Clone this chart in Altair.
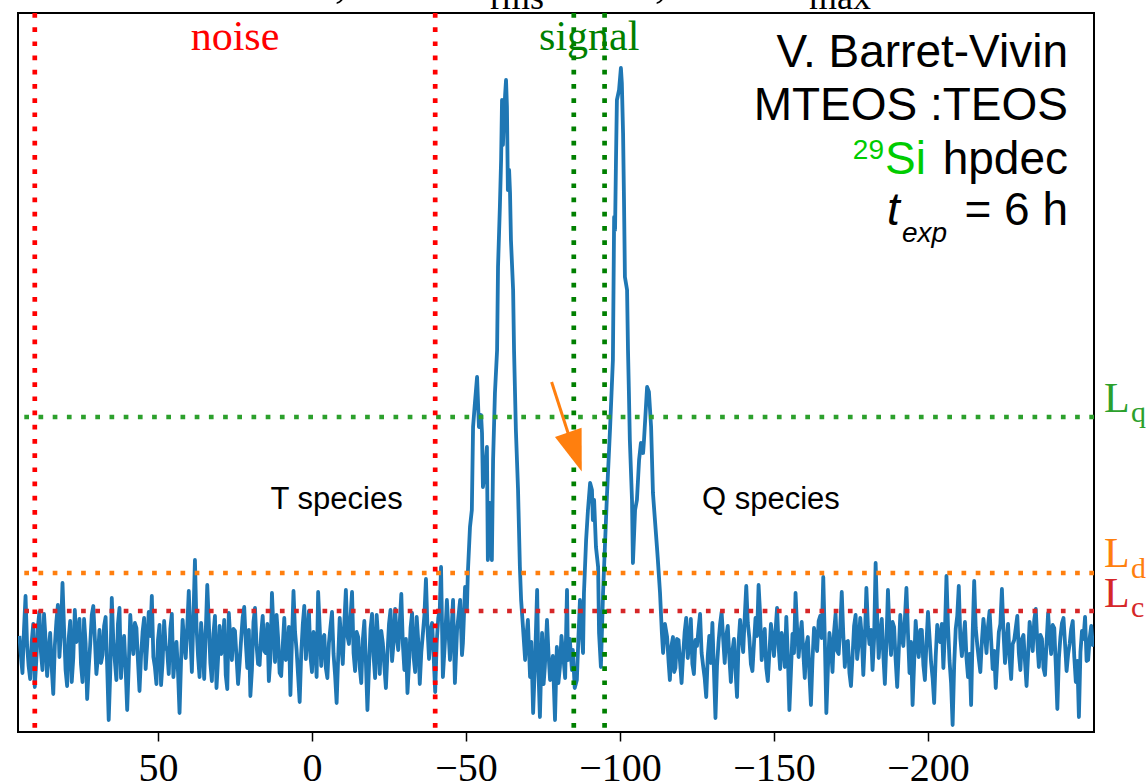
import altair as alt
import pandas as pd

# ---------------- data ----------------
# noise before the peaks: 0.5 ppm sampling starting at 95 ppm, going down
left_start_ppm = 95
left_noise = [
    1.2, -0.8, -2.5, 1.9, 5.2, 0.3, -1.8, -3.1, 0.6, 2.4,
    -3.9, -1.2, 2.1, 3.6, -0.4, -2.2, 3.4, 0.9, -2.8, -0.5,
    1.5, -2.0, -4.6, 0.2, 2.6, 4.3, -0.9, 1.7, 6.5, 2.0,
    -2.2, -3.8, 0.9, 2.7, -3.4, -1.0, 3.8, 0.6, 1.1, 2.9,
    -1.6, -3.4, 2.9, 0.5, -5.1, -2.0, 0.4, 3.3, 4.2, 1.0,
    -2.6, -0.9, 1.8, -1.5, -0.7, 2.2, 3.1, -1.8, -7.2, -2.5,
    5.0, 0.7, -1.3, -3.2, 2.4, 4.0, -3.0, -0.4, 1.2, -2.1,
    -6.2, -1.8, 3.3, 1.0, -0.6, 2.5, 2.0, -1.3, -4.3, -0.8,
    1.6, 3.0, -2.1, 0.4, 3.6, 1.2, 5.2, -0.9, -1.9, -3.6,
    0.8, 2.3, -3.7, -1.4, 2.7, 0.2, -0.3, -2.6, 1.9, 3.4,
    -2.9, -0.7, 0.6, -2.4, -6.5, -1.2, 2.8, 0.5, -1.0, 2.1,
    5.7, 1.3, -2.4, 3.0, 8.8, 2.2, -0.8, -2.9, 2.5, 0.4,
    -3.1, 1.5, 6.3, 2.6, -1.5, -3.3, 1.4, 3.2, -4.0, -1.1,
    2.2, -0.6, 0.1, 2.8, -2.7, -4.1, 3.5, 0.8, -1.2, 1.9,
    1.7, -0.9, -3.6, -1.5, 0.9, 3.1, 4.1, 0.6, -2.0, 1.8,
    -4.8, -2.2, 2.6, 4.0, 0.3, -1.6, -1.7, 1.4, 3.2, -0.3,
    -0.5, 2.4, -3.3, -1.0, 5.5, 1.9, -1.4, 3.3, 1.0, -2.5,
    -2.8, 0.2, 3.0, -1.2, -0.9, 2.1, -4.7, 0.8, 5.7, 1.6,
    -0.2, -2.8, -5.4, -0.6, 2.3, 4.2, -1.1, 1.0, 3.7, -0.8,
    -2.4, 1.6, 0.7, -2.9, 5.6, 2.1, -1.8, 0.9, 1.3, -2.0,
    -3.0, 0.5, 2.1, 3.6, -0.6, -2.7, -5.5, -1.0, 3.0, 0.7,
    -1.6, 2.5, 5.8, 1.2, 0.4, 3.0, 5.6, -0.5, -2.3, 1.6,
    1.1, -1.9, -3.5, 0.8, 2.7, -1.4, -6.2, -2.0, 1.9, 3.4,
    -0.8, -3.0, 3.3, 0.9, -2.6, 1.7, 0.5, -1.8, -4.0, -0.6,
    2.4, 3.8, -1.3, 0.6, 3.9, 1.3, -0.2, 2.6, 5.4, 0.4,
    -2.2, 0.9, -4.5, -1.6, 2.0, 3.5, -0.9, -2.4, 3.1, 0.7,
    -3.6, -0.4, 1.4, 3.3, 6.9, 2.0, -1.1, 1.8, 2.5, -0.8,
    -4.4, 0.6, 3.0, 4.0,
]

# peak region (T and Q species), explicit ppm / intensity pairs
peak_ppm = [
    -41.9, -42.5, -43.2, -43.8, -44.8, -45.8, -46.4, -47.1, -48.1, -48.7,
    -49.0, -49.7, -50.3, -50.6, -51.3, -51.9, -52.3, -52.9, -53.6, -54.2,
    -54.9, -55.2, -55.5, -56.2, -56.8, -57.1, -57.8, -58.4, -58.8, -59.4,
    -60.1, -60.4, -61.0, -61.4, -61.7, -62.0, -62.3, -62.7, -63.0, -63.3,
    -63.6, -64.0, -64.3, -64.6, -65.3, -65.6, -66.2, -66.9, -67.5, -67.9,
    -68.5, -69.2, -69.6, -70.1, -70.8, -71.2, -71.8, -72.4, -73.1, -73.5,
    -74.0, -74.7, -75.2, -75.6, -76.3, -76.8, -77.3, -78.2, -78.9, -79.5,
    -80.0, -80.5, -81.0, -81.5, -82.2, -82.8, -83.1, -83.7, -84.4, -84.7,
    -85.3, -86.0, -86.5, -87.0, -87.5, -88.0, -88.3, -89.0, -89.6, -90.3,
    -90.9, -91.2, -91.6, -92.2, -92.9, -93.2, -93.8, -94.5, -95.1, -95.8,
    -96.8, -97.7, -98.1, -98.4, -98.7, -99.0, -99.7, -100.3, -100.6, -101.0,
    -101.3, -101.6, -102.3, -102.6, -102.9, -103.2, -103.9, -104.2, -104.9, -105.5,
    -106.2, -106.8, -107.5, -107.8, -108.8, -109.4, -110.1, -110.4, -110.7, -112.0,
    -112.3, -113.0, -113.6, -114.0, -114.6, -115.3, -115.8, -116.2, -116.7, -117.2,
    -117.6,
]
peak_int = [
    8.1, -2.9, 0.8, 4.8, -1.2, 4.8, -3.5, 1.8, 4.8, -0.7,
    0.5, 6.1, 3.8, 7.5, 12.1, 13.8, 22.1, 24.5, 27.1, 22.1,
    23.3, 21.5, 16.1, 17.8, 20.1, 8.8, 14.5, 8.8, 18.8, 25.5,
    29.8, 38.1, 44.1, 48.8, 54.8, 50.3, 52.8, 55.3, 56.8, 54.1,
    45.8, 47.8, 45.5, 40.8, 35.8, 29.8, 21.8, 15.8, 8.1, 4.8,
    2.1, -1.2, 1.0, 2.8, -2.9, 0.6, -6.5, -1.5, 5.8, -2.0,
    -6.9, 1.5, -3.6, -1.9, 2.8, -0.6, -3.2, -0.8, -7.2, 0.1,
    -3.5, -1.9, 1.2, -0.5, -3.0, 5.8, -1.2, 0.9, -2.2, -0.2,
    -4.0, -3.2, 1.0, 4.8, 2.0, -0.5, 5.5, 10.8, 13.8, 16.5,
    15.8, 12.8, 14.8, 10.1, 8.1, 1.5, -1.9, 5.5, 10.1, 15.5,
    22.1, 28.8, 43.1, 41.8, 48.8, 54.8, 55.8, 58.0, 56.5, 51.5,
    44.8, 37.1, 35.8, 29.8, 25.5, 20.8, 14.8, 8.5, 13.8, 14.8,
    18.8, 20.5, 19.5, 20.8, 26.1, 25.6, 22.1, 18.8, 15.5, 10.1,
    8.8, 5.5, 1.5, -0.5, 2.4, 1.1, -1.5, -3.2, 0.2, 1.1,
    -2.4,
]

# noise after the peaks: 0.5 ppm sampling starting at -118 ppm, going down
right_start_ppm = -118
right_noise = [
    -2.0, 0.9, 0.8, -1.4, -3.5, -0.7, 1.6, 3.0, -1.0, 0.4,
    2.9, -1.6, -2.6, 0.8, 0.2, 1.9, 3.4, -0.5, -1.8, -3.0,
    -4.9, -0.8, 1.2, -1.5, 2.5, -2.2, -7.0, -1.8, 0.6, 2.4,
    3.6, 0.9, -1.5, 1.2, 2.2, -0.9, -3.4, -0.3, 0.9, -2.2,
    -4.9, 0.5, 2.8, 1.0, -0.4, 3.1, 6.2, 2.5, 1.0, -1.6,
    -2.3, 0.4, 3.0, 1.2, 6.3, 3.4, -1.2, 0.3, 1.9, -2.0,
    -3.3, -0.6, 2.4, 0.9, -0.8, 1.7, 4.0, 0.2, -2.1, 1.5,
    0.5, -1.9, 3.1, -0.8, -6.2, -2.4, 1.4, -0.5, 5.5, 2.0,
    -0.9, 1.2, 2.6, -0.4, -3.0, 0.3, 1.1, -2.6, -5.7, -1.2,
    2.0, 0.8, -0.3, 2.7, 3.2, 1.0, 7.1, 0.9, -6.5, -2.1,
    1.5, 0.2, -2.4, 1.6, 3.4, -0.3, -0.6, 2.0, 5.6, 1.4,
    -1.9, 0.6, 0.7, -2.5, -3.8, -0.9, 2.2, 3.3, -1.1, 0.4,
    3.0, 1.2, -2.7, 0.8, 6.0, 2.1, 0.4, 1.8, -2.2, 0.9,
    8.5, 3.0, -1.0, 1.4, 2.9, -0.7, -3.6, 0.5, 5.8, 1.8,
    -0.7, 2.6, 2.1, -1.2, -3.9, -0.4, 3.3, 1.1, 0.2, 2.9,
    6.0, 1.5, -2.5, 0.6, -5.7, -1.5, 2.7, 0.4, -0.9, 1.8,
    1.8, -1.7, -3.2, 0.5, 3.6, 1.1, -1.4, -3.0, -5.5, -0.9,
    2.3, 0.8, 0.6, 2.4, -2.0, 1.6, 7.2, 2.2, -1.3, -3.5,
    -7.7, -1.7, 1.9, 3.2, 6.2, 1.0, -0.8, 0.9, 2.6, -1.0,
    -2.9, -0.6, -5.7, 1.4, 6.7, 2.0, 0.3, -1.1, -2.4, 0.7,
    2.9, 1.3, -0.5, 2.2, 3.7, 0.8, -2.1, -0.3, -4.0, -1.1,
    1.6, 2.4, 5.9, 1.7, -1.5, 0.6, 2.4, -1.0, -3.1, 0.4,
    0.8, 2.0, 3.2, -0.5, -2.2, 0.9, 1.3, -1.4, -3.8, -0.7,
    2.6, 1.2, -0.3, 2.8, 3.9, 0.5, -1.9, 1.3, 0.9, -2.0,
    -2.7, 0.6, 3.5, 1.0, -0.6, 2.3, 2.0, -1.8, -6.1, -1.0,
    1.1, 2.5, 3.0, 0.4, -2.3, -0.6, 0.4, 1.9, 2.7, -0.9,
    -3.4, -1.3, -6.9, -0.4, 1.7, 0.9, 3.1, -1.3, -1.2, 1.0,
    2.2, 0.3, 0.5,
]
noise_step = 0.5

noise_limits = [90, -40]
signal_limits = [-85, -95]
limit_names = ["Lq", "Ld", "Lc"]
limit_values = [23.1, 7.5, 3.7]
tick_values = [50, 0, -50, -100, -150, -200]
x_domain = [-253.9, 95.45]
y_domain = [-8.4, 63.5]

# ---------------- tables ----------------
ppm = ([left_start_ppm - noise_step * i for i in range(len(left_noise))] + peak_ppm
       + [right_start_ppm - noise_step * i for i in range(len(right_noise))])
inten = left_noise + peak_int + right_noise
spec = pd.DataFrame({"ppm": ppm, "I": inten})

vlines = pd.DataFrame({
    "ppm": noise_limits + signal_limits,
    "c": ["#ff0000", "#ff0000", "#008000", "#008000"],
})
hlines = pd.DataFrame({
    "I": limit_values,
    "c": ["#2ca02c", "#ff7f0e", "#d62728"],
})

xs = alt.Scale(domain=x_domain, reverse=True, nice=False, zero=False)
ys = alt.Scale(domain=y_domain, nice=False, zero=False)
xaxis = alt.Axis(values=tick_values, format="d", title=None, grid=False,
                 domain=False, ticks=True, tickSize=9, tickWidth=1.5,
                 tickColor="black", labelFont="Liberation Serif",
                 labelFontSize=40, labelColor="black", labelPadding=39,
                 labelBaseline="alphabetic", labelFlush=False)


def X(field="ppm"):
    return alt.X(f"{field}:Q", scale=xs, axis=xaxis)


def Y(field="I"):
    return alt.Y(f"{field}:Q", scale=ys, axis=None)


line = alt.Chart(spec).mark_line(
    color="#1f77b4", strokeWidth=3.8, strokeJoin="round", clip=True
).encode(x=X(), y=Y(), order=alt.Order("ppm:Q", sort="descending"))

vrule = alt.Chart(vlines).mark_rule(
    strokeWidth=4.7, strokeDash=[4.7, 9.5]
).encode(x=X(), color=alt.Color("c:N", scale=None))

hrule = alt.Chart(hlines).mark_rule(
    strokeWidth=4.7, strokeDash=[4.7, 9.5]
).encode(y=Y(), color=alt.Color("c:N", scale=None))

# region labels
region_txt = pd.DataFrame({
    "ppm": [25, -90], "I": [59.8, 59.8], "t": ["noise", "signal"],
    "c": ["#ff0000", "#008000"],
})
regions = alt.Chart(region_txt).mark_text(
    font="Liberation Serif", fontSize=42, align="center", baseline="alphabetic"
).encode(x=X(), y=Y(), text="t:N", color=alt.Color("c:N", scale=None))

species_txt = pd.DataFrame({
    "ppm": [-8.0, -149.0], "I": [13.9, 13.9], "t": ["T species", "Q species"],
})
species = alt.Chart(species_txt).mark_text(
    font="Liberation Sans", fontSize=31, align="center", baseline="alphabetic",
    color="black"
).encode(x=X(), y=Y(), text="t:N")

# limit labels on the right
Lbig = pd.DataFrame({"I": [23.6, 8.1, 4.1], "t": ["L", "L", "L"],
                     "c": ["#2ca02c", "#ff7f0e", "#d62728"]})
Lsub = pd.DataFrame({"I": [22.6, 7.0, 3.1], "t": ["q", "d", "c"],
                     "c": ["#2ca02c", "#ff7f0e", "#d62728"]})
lbl_big = alt.Chart(Lbig).mark_text(
    font="Liberation Serif", fontSize=42, align="left", baseline="alphabetic"
).encode(x=alt.value(1086), y=Y(), text="t:N", color=alt.Color("c:N", scale=None))
lbl_sub = alt.Chart(Lsub).mark_text(
    font="Liberation Serif", fontSize=30, align="left", baseline="alphabetic"
).encode(x=alt.value(1113), y=Y(), text="t:N", color=alt.Color("c:N", scale=None))

# arrow pointing to the small peak
arrow_df = pd.DataFrame({"x": [-77.8], "y": [26.6], "x2": [-84.4], "y2": [20.3]})
shaft = alt.Chart(arrow_df).mark_rule(color="#ff7f0e", strokeWidth=3).encode(
    x=X("x"), y=Y("y"), x2="x2:Q", y2="y2:Q")
head_df = pd.DataFrame({"x": [-85.4], "y": [19.6]})
head = alt.Chart(head_df).mark_point(
    shape="M0,1L-0.68,-1L0.68,-1Z", size=1714, angle=341, filled=True,
    color="#ff7f0e", opacity=1, strokeWidth=0
).encode(x=X("x"), y=Y("y"))


# annotation block in the upper right corner
def txt(s, x, y, size=46, align="right", color="black", style="normal",
        font="Liberation Sans"):
    return alt.Chart(pd.DataFrame({"t": [s]})).mark_text(
        font=font, fontSize=size, align=align, baseline="alphabetic",
        color=color, fontStyle=style
    ).encode(x=alt.value(x), y=alt.value(y), text="t:N")


notes = [
    txt("V. Barret-Vivin", 1050, 54),
    txt("MTEOS :TEOS", 1050, 107),
    txt("hpdec", 1050, 161),
    txt("Si", 908, 161, color="#00cc00"),
    txt("29", 866, 146, size=28, color="#00cc00"),
    txt("t", 869, 212, align="left", style="italic"),
    txt("exp", 884, 229, size=28, align="left", style="italic"),
    txt("= 6 h", 1050, 212),
    # bottom of the clipped title line
    txt(",", 323, -17, size=50, align="center", font="Liberation Serif"),
    txt("rms", 499, -3.7, size=36, align="center", font="Liberation Serif"),
    txt(",", 643, -17, size=50, align="center", font="Liberation Serif"),
    txt("max", 822, -3.7, size=36, align="center", font="Liberation Serif"),
]

chart = alt.layer(
    line, hrule, vrule, shaft, head, regions, species, lbl_big, lbl_sub, *notes
).properties(
    width=1076, height=719,
    autosize=alt.AutoSizeParams(type="none"),
    padding={"left": 18, "top": 13, "right": 52, "bottom": 51},
    background="white",
).configure_view(
    stroke="black", strokeWidth=2
)

chart.save("out.html", embed_options={"renderer": "svg", "actions": False})
